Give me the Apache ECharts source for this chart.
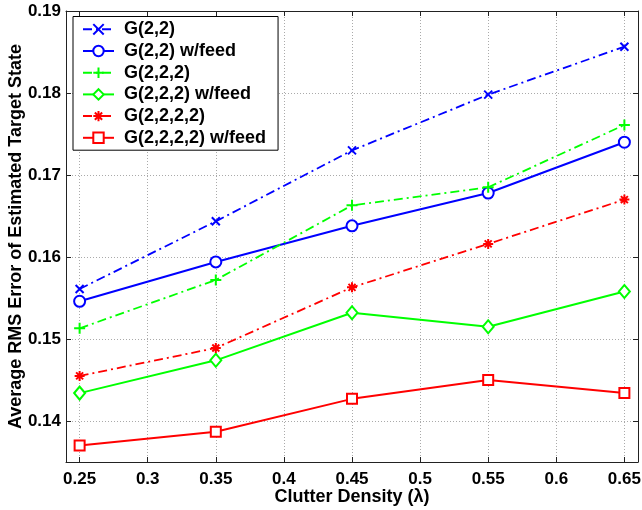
<!DOCTYPE html>
<html>
<head>
<meta charset="utf-8">
<script src="https://cdn.jsdelivr.net/npm/echarts@6/dist/echarts.min.js"></script>
<style>html,body{margin:0;padding:0;background:#fff;}#c{width:642px;height:510px;}</style>
</head>
<body>
<div id="c"></div>
<script>
var clutterDensity = [0.25, 0.35, 0.45, 0.55, 0.65];
var seriesNames = ['G(2,2)', 'G(2,2) w/feed', 'G(2,2,2)', 'G(2,2,2) w/feed', 'G(2,2,2,2)', 'G(2,2,2,2) w/feed'];
var g22      = [0.1561, 0.16435, 0.1730, 0.1798, 0.18565];
var g22feed  = [0.1546, 0.1594, 0.1638, 0.1678, 0.1740];
var g222     = [0.1513, 0.1572, 0.1663, 0.1685, 0.1761];
var g222feed = [0.1434, 0.1474, 0.1532, 0.1515, 0.1558];
var g2222    = [0.1455, 0.1489, 0.1563, 0.1616, 0.1670];
var g2222feed= [0.1370, 0.1387, 0.1427, 0.1450, 0.1434];
var xTitle = 'Clutter Density (\u03bb)';
var yTitle = 'Average RMS Error of Estimated Target State';

var FONT = '"Liberation Sans", Arial, sans-serif';
var dashDot = [9, 4, 2, 4];
var SYM_X = 'path://M0,0L1,1M1,0L0,1';
var SYM_PLUS = 'path://M0.5,0L0.5,1M0,0.5L1,0.5';
var SYM_STAR = 'path://M0.5,0L0.5,1M0,0.5L1,0.5M0.15,0.15L0.85,0.85M0.85,0.15L0.15,0.85';

function pairs(vals){ return clutterDensity.map(function(x,i){ return [x, vals[i]]; }); }

function mk(name, vals, color, dashed, symbol, size){
  var isPath = symbol.indexOf('path://') === 0;
  return {
    name: name, type: 'line', data: pairs(vals),
    symbol: symbol, symbolSize: size, showSymbol: true,
    lineStyle: { color: color, width: dashed ? 1.8 : 2, type: dashed ? dashDot : 'solid' },
    itemStyle: isPath ? { color: color, borderColor: color, borderWidth: 2 } : { color: color, borderWidth: 1.6 },
    emphasis: { disabled: true }
  };
}

var chart = echarts.init(document.getElementById('c'), null, { renderer: 'canvas' });
var axisLineStyle = { color: '#222', width: 1 };
var option = {
  backgroundColor: '#fff',
  animation: false,
  grid: { left: 66, right: 4, top: 11, bottom: 48, containLabel: false, outerBoundsMode: 'none' },
  legend: {
    orient: 'vertical', left: 73, top: 16.5,
    padding: [3.8, 12, 3.4, 9],
    itemWidth: 31, itemHeight: 13, itemGap: 3.7,
    backgroundColor: '#fff', borderColor: '#000', borderWidth: 1,
    textStyle: { fontFamily: FONT, fontWeight: 'bold', fontSize: 18, color: '#000', padding: [0, 0, 0, 5] },
    data: seriesNames
  },
  xAxis: [{
    type: 'value', min: 0.24, max: 0.66, splitNumber: 8, position: 'bottom',
    name: xTitle, nameLocation: 'middle', nameGap: 26, nameMoveOverlap: false,
    nameTextStyle: { fontFamily: FONT, fontWeight: 'bold', fontSize: 18, color: '#000' },
    axisLine: { show: true, lineStyle: axisLineStyle },
    axisTick: { show: true, inside: true, length: 5, lineStyle: axisLineStyle },
    axisLabel: { fontFamily: FONT, fontWeight: 'bold', fontSize: 17, color: '#000', margin: 9, showMinLabel: false, showMaxLabel: false },
    splitLine: { show: true, lineStyle: { color: '#aaa', type: [1, 2], width: 1 } }
  }, {
    type: 'value', min: 0.24, max: 0.66, splitNumber: 8, position: 'top',
    axisLine: { show: true, lineStyle: axisLineStyle },
    axisTick: { show: true, inside: true, length: 5, lineStyle: axisLineStyle },
    axisLabel: { show: false }, splitLine: { show: false }
  }],
  yAxis: [{
    type: 'value', min: 0.135, max: 0.19, splitNumber: 5, position: 'left',
    name: yTitle, nameLocation: 'middle', nameGap: 41, nameMoveOverlap: false,
    nameTextStyle: { fontFamily: FONT, fontWeight: 'bold', fontSize: 18, color: '#000' },
    axisLine: { show: true, lineStyle: axisLineStyle },
    axisTick: { show: true, inside: true, length: 5, lineStyle: axisLineStyle },
    axisLabel: { fontFamily: FONT, fontWeight: 'bold', fontSize: 17, color: '#000', margin: 5, showMinLabel: false },
    splitLine: { show: true, lineStyle: { color: '#aaa', type: [1, 2], width: 1 } }
  }, {
    type: 'value', min: 0.135, max: 0.19, splitNumber: 5, position: 'right',
    axisLine: { show: true, lineStyle: axisLineStyle },
    axisTick: { show: true, inside: true, length: 5, lineStyle: axisLineStyle },
    axisLabel: { show: false }, splitLine: { show: false }
  }],
  series: [
    mk(seriesNames[0], g22, '#0000ff', true, SYM_X, 8),
    mk(seriesNames[1], g22feed, '#0000ff', false, 'emptyCircle', 11),
    mk(seriesNames[2], g222, '#00ff00', true, SYM_PLUS, 11),
    mk(seriesNames[3], g222feed, '#00ff00', false, 'emptyDiamond', [11, 13]),
    mk(seriesNames[4], g2222, '#ff0000', true, SYM_STAR, 10),
    mk(seriesNames[5], g2222feed, '#ff0000', false, 'emptyRect', 10)
  ]
};
chart.setOption(option);
</script>
</body>
</html>
